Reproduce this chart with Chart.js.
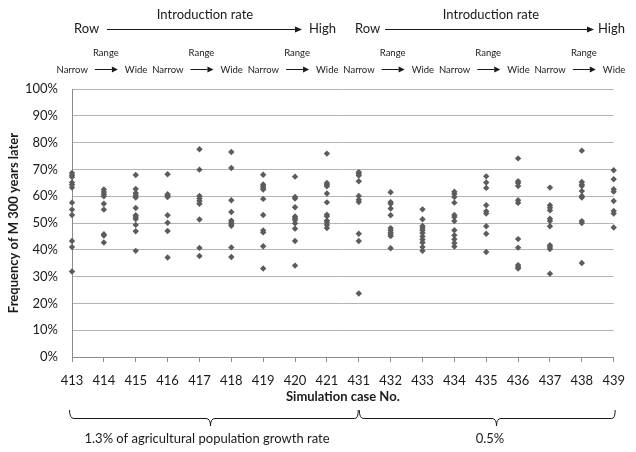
<!DOCTYPE html>
<html>
<head>
<meta charset="utf-8">
<script src="https://cdn.jsdelivr.net/npm/chart.js@4"></script>
<style>
  html, body { margin: 0; padding: 0; background: #fff; }
  #wrap { width: 636px; height: 452px; }
</style>
</head>
<body>
<div id="wrap"><canvas id="scatterChart" width="636" height="452"></canvas></div>
<script>
// simulation cases on the x axis
const cases = ['413', '414', '415', '416', '417', '418', '419', '420', '421',
               '431', '432', '433', '434', '435', '436', '437', '438', '439'];

// frequency of M after 300 years (%), one array per case
const c413 = [68.7, 67.8, 67.2, 65.1, 64.3, 63.2, 57.6, 55.0, 53.0, 43.3, 41.0, 31.9];
const c414 = [62.5, 61.6, 60.7, 60.0, 57.2, 55.0, 45.8, 45.3, 42.7];
const c415 = [67.9, 62.7, 61.2, 60.4, 59.5, 55.6, 52.9, 52.2, 51.5, 49.3, 46.9, 39.6];
const c416 = [68.2, 60.7, 60.2, 59.7, 52.9, 50.1, 47.0, 37.1];
const c417 = [77.5, 69.9, 60.1, 59.1, 58.2, 57.2, 51.3, 40.7, 37.7];
const c418 = [76.5, 70.5, 58.5, 54.1, 50.9, 50.3, 49.6, 49.0, 40.9, 37.3];
const c419 = [68.0, 64.4, 63.7, 63.1, 62.5, 59.0, 53.0, 47.2, 46.5, 41.3, 33.0];
const c420 = [67.3, 59.7, 59.1, 55.9, 52.4, 51.8, 51.1, 49.9, 47.9, 43.3, 34.1];
const c421 = [75.9, 64.9, 64.3, 63.7, 61.0, 57.7, 53.1, 52.5, 50.9, 50.3, 49.3, 48.1];
const c431 = [69.0, 68.4, 67.7, 65.6, 60.1, 58.7, 57.8, 46.0, 43.3, 23.7];
const c432 = [61.5, 57.8, 57.2, 55.4, 52.9, 48.1, 47.3, 46.5, 45.8, 45.1, 40.6];
const c433 = [55.1, 51.4, 48.9, 48.1, 47.3, 46.3, 45.0, 43.8, 42.7, 41.0, 39.6];
const c434 = [61.7, 60.8, 59.7, 57.6, 53.0, 52.2, 50.7, 47.3, 45.4, 43.9, 42.5, 41.2];
const c435 = [67.4, 65.1, 63.1, 56.6, 54.4, 53.5, 48.8, 46.0, 39.2];
const c436 = [74.1, 65.6, 64.9, 63.8, 58.5, 57.5, 44.0, 40.8, 34.3, 33.6, 33.0];
const c437 = [63.2, 56.6, 55.7, 54.7, 51.6, 50.7, 48.8, 41.7, 41.0, 40.3, 31.1];
const c438 = [77.0, 65.3, 64.4, 63.8, 61.9, 60.1, 59.5, 50.7, 50.0, 35.1];
const c439 = [69.7, 66.3, 62.6, 61.7, 58.2, 54.5, 53.5, 48.3];

const caseValues = [c413, c414, c415, c416, c417, c418, c419, c420, c421,
                    c431, c432, c433, c434, c435, c436, c437, c438, c439];

const yTicks = [0, 10, 20, 30, 40, 50, 60, 70, 80, 90, 100];

const points = [];
cases.forEach((c, i) => {
    caseValues[i].forEach(v => points.push({ x: c, y: v }));
});

const FONT = 'Lato, "Open Sans", sans-serif';
const INK = '#1a1a1a';

// header arrows, range labels and the braces under the axis
const annotations = {
    id: 'annotations',
    afterDraw(chart) {
        const ctx = chart.ctx;
        const xs = chart.scales.x;
        ctx.save();
        ctx.fillStyle = INK;
        ctx.strokeStyle = INK;
        ctx.lineWidth = 1;

        const arrow = (x0, x1, y, head) => {
            ctx.beginPath();
            ctx.moveTo(x0, y + 0.5);
            ctx.lineTo(x1 - head, y + 0.5);
            ctx.stroke();
            ctx.beginPath();
            ctx.moveTo(x1, y + 0.5);
            ctx.lineTo(x1 - head, y + 0.5 - 3);
            ctx.lineTo(x1 - head, y + 0.5 + 3);
            ctx.closePath();
            ctx.fill();
        };

        // Row -> High
        ctx.font = '13px ' + FONT;
        ctx.textBaseline = 'middle';
        const rows = [
            { row: 74, a0: 107, a1: 302, high: 309, title: 205 },
            { row: 355, a0: 385, a1: 594, high: 598, title: 491 }
        ];
        rows.forEach(r => {
            ctx.textAlign = 'left';
            ctx.fillText('Row', r.row, 29);
            ctx.fillText('High', r.high, 29);
            ctx.textAlign = 'center';
            ctx.fillText('Introduction rate', r.title, 15);
            arrow(r.a0, r.a1, 29, 7);
        });

        // Narrow -> Wide per three cases
        ctx.font = '9.5px ' + FONT;
        for (let k = 0; k < 6; k++) {
            const cx = xs.getPixelForValue(3 * k + 1) + 2;
            ctx.textAlign = 'center';
            ctx.fillText('Range', cx, 53);
            ctx.textAlign = 'right';
            ctx.fillText('Narrow', cx - 18, 70);
            ctx.textAlign = 'left';
            ctx.fillText('Wide', cx + 19, 70);
            arrow(cx - 11, cx + 12, 69, 6);
        }

        // braces
        const brace = (x0, x1, tip) => {
            const top = 410, mid = 418, bot = 426;
            ctx.beginPath();
            ctx.moveTo(x0 + 0.5, top);
            ctx.quadraticCurveTo(x0 + 0.5, mid + 0.5, x0 + 5, mid + 0.5);
            ctx.lineTo(tip - 4, mid + 0.5);
            ctx.quadraticCurveTo(tip + 0.5, mid + 0.5, tip + 0.5, bot);
            ctx.quadraticCurveTo(tip + 0.5, mid + 0.5, tip + 5, mid + 0.5);
            ctx.lineTo(x1 - 4, mid + 0.5);
            ctx.quadraticCurveTo(x1 - 0.5, mid + 0.5, x1 - 0.5, top);
            ctx.stroke();
        };
        const p0 = xs.getPixelForValue(0);
        const p9 = xs.getPixelForValue(9);
        const p17 = xs.getPixelForValue(17);
        brace(p0 - 3, p9, 210);
        brace(p9, p17 + 2, 496);

        ctx.font = '13px ' + FONT;
        ctx.textAlign = 'center';
        ctx.fillText('1.3% of agricultural population growth rate', 207, 439);
        ctx.fillText('0.5%', 490, 439);
        ctx.restore();
    }
};

const ctx = document.getElementById('scatterChart').getContext('2d');
new Chart(ctx, {
    type: 'line',
    data: {
        labels: cases,
        datasets: [{
            label: 'Frequency of M',
            data: points,
            showLine: false,
            pointStyle: 'rectRot',
            pointRadius: 3.2,
            pointBorderWidth: 0,
            pointBackgroundColor: '#5c5c5c',
            pointBorderColor: '#5c5c5c'
        }]
    },
    options: {
        responsive: false,
        animation: false,
        events: [],
        layout: { padding: { top: 89, right: 11, bottom: 43, left: 0 } },
        plugins: {
            legend: { display: false },
            tooltip: { enabled: false }
        },
        scales: {
            x: {
                type: 'category',
                offset: false,
                grid: {
                    offset: false,
                    drawOnChartArea: false,
                    drawTicks: true,
                    tickLength: 5,
                    color: '#8c8c8c'
                },
                border: { color: '#8c8c8c' },
                ticks: {
                    color: INK,
                    font: { family: FONT, size: 13 },
                    padding: 11,
                    maxRotation: 0,
                    autoSkip: false
                },
                title: {
                    display: true,
                    text: 'Simulation case No.',
                    color: INK,
                    font: { family: FONT, size: 13, weight: 'bold' },
                    padding: { top: 0, bottom: 4 }
                },
                afterFit(scale) { scale.height = 52; }
            },
            y: {
                min: 0,
                max: 100,
                afterBuildTicks(scale) {
                    scale.ticks = yTicks.map(v => ({ value: v }));
                },
                grid: { drawTicks: false, color: '#b4b4b4' },
                border: { color: '#8c8c8c' },
                ticks: {
                    color: INK,
                    font: { family: FONT, size: 13 },
                    padding: 14,
                    callback: v => v + '%'
                },
                title: {
                    display: true,
                    text: 'Frequency of M 300 years later',
                    color: INK,
                    font: { family: FONT, size: 13, weight: 'bold' },
                    padding: { top: 6, bottom: 0 }
                },
                afterFit(scale) { scale.width = 72; }
            }
        }
    },
    plugins: [annotations]
});
</script>
</body>
</html>
